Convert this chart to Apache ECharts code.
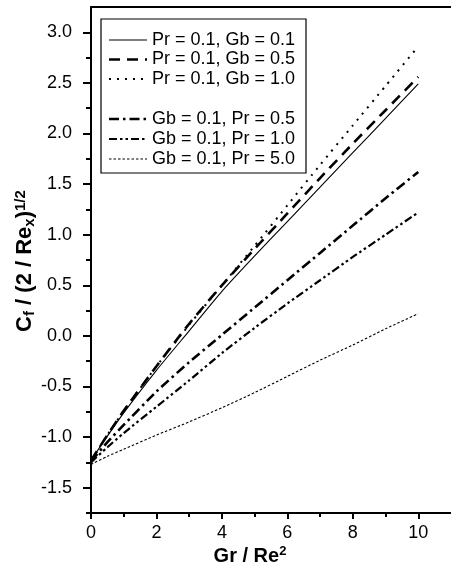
<!DOCTYPE html>
<html>
<head>
<meta charset="utf-8">
<script src="https://cdn.jsdelivr.net/npm/echarts@6/dist/echarts.min.js"></script>
<style>
  html, body { margin: 0; padding: 0; background: #fff; }
  #chart { width: 451px; height: 569px; }
</style>
</head>
<body>
<div id="chart"></div>
<script>
// Abscissa: Gr / Re^2
const grRe2 = [0, 0.5, 1, 2, 3, 4, 5, 6, 7, 8, 9, 10];

// Skin friction C_f / (2/Re_x)^(1/2) for each parameter set
const pr01gb01 = [-1.23, -0.99, -0.76, -0.34, 0.05, 0.44, 0.79, 1.13, 1.47, 1.81, 2.15, 2.49];
const pr01gb05 = [-1.23, -0.98, -0.74, -0.30, 0.12, 0.50, 0.86, 1.21, 1.56, 1.90, 2.23, 2.56];
const pr01gb10 = [-1.23, -0.98, -0.74, -0.30, 0.11, 0.50, 0.89, 1.29, 1.69, 2.08, 2.47, 2.86];
const gb01pr05 = [-1.24, -1.05, -0.88, -0.55, -0.26, 0.01, 0.28, 0.55, 0.82, 1.09, 1.36, 1.62];
const gb01pr10 = [-1.25, -1.10, -0.96, -0.70, -0.44, -0.17, 0.08, 0.32, 0.55, 0.78, 1.00, 1.22];
const gb01pr50 = [-1.27, -1.19, -1.12, -0.98, -0.85, -0.71, -0.56, -0.40, -0.24, -0.09, 0.07, 0.22];

const seriesNames = [
  'Pr = 0.1, Gb = 0.1',
  'Pr = 0.1, Gb = 0.5',
  'Pr = 0.1, Gb = 1.0',
  'Gb = 0.1, Pr = 0.5',
  'Gb = 0.1, Pr = 1.0',
  'Gb = 0.1, Pr = 5.0'
];

// Axis tick positions
const xMajorTicks = [0, 2, 4, 6, 8, 10];
const xMinorTicks = [1, 3, 5, 7, 9];
const yMajorTicks = [-1.5, -1.0, -0.5, 0.0, 0.5, 1.0, 1.5, 2.0, 2.5, 3.0];
const yMinorTicks = [-1.75, -1.25, -0.75, -0.25, 0.25, 0.75, 1.25, 1.75, 2.25, 2.75];

const FONT = '"Liberation Sans", Arial, Helvetica, sans-serif';

// Line appearance for each curve
const styles = [
  { width: 1.1, type: 'solid' },
  { width: 2.6, type: [11, 7] },
  { width: 2.0, type: [2, 6] },
  { width: 2.6, type: [10, 4, 2.5, 4] },
  { width: 2.2, type: [8, 3, 2.5, 3, 2.5, 3] },
  { width: 1.1, type: [2.5, 2] }
];

const allValues = [pr01gb01, pr01gb05, pr01gb10, gb01pr05, gb01pr10, gb01pr50];

const series = allValues.map((vals, k) => ({
  name: seriesNames[k],
  type: 'line',
  data: grRe2.map((x, i) => [x, vals[i]]),
  smooth: 0.2,
  showSymbol: false,
  symbol: 'none',
  silent: true,
  lineStyle: { color: '#000', width: styles[k].width, type: styles[k].type, cap: 'butt' }
}));

// Legend drawn as a boxed list with line samples
const legendRowsY = [40, 59.5, 79, 119, 139, 159];
const legendGraphics = [{
  type: 'rect',
  shape: { x: 101, y: 19, width: 205, height: 154 },
  style: { fill: '#fff', stroke: '#000', lineWidth: 1.2 },
  z: 10
}];
seriesNames.forEach((name, k) => {
  const y = legendRowsY[k];
  legendGraphics.push({
    type: 'line',
    shape: { x1: 109, y1: y, x2: 147, y2: y },
    style: {
      stroke: '#000',
      lineWidth: styles[k].width,
      lineDash: styles[k].type === 'solid' ? null : styles[k].type
    },
    z: 11
  });
  legendGraphics.push({
    type: 'text',
    x: 152, y: y,
    style: {
      text: name, fill: '#000',
      font: '18px ' + FONT,
      align: 'left', verticalAlign: 'middle'
    },
    z: 11
  });
});

const titleGraphics = [
  {
    type: 'text',
    x: 250, y: 556,
    style: {
      text: '{m|Gr / Re}{p|2}',
      align: 'center', verticalAlign: 'middle',
      rich: {
        m: { fontSize: 20, fontWeight: 'bold', fontFamily: FONT, fill: '#000', lineHeight: 22 },
        p: { fontSize: 13, fontWeight: 'bold', fontFamily: FONT, fill: '#000', verticalAlign: 'top', lineHeight: 22, padding: [0, 0, 8, 0] }
      }
    }
  },
  {
    type: 'text',
    x: 25, y: 261,
    rotation: Math.PI / 2,
    style: {
      text: '{m|C}{b|f}{m| / (2 / Re}{b|x}{m|)}{p|1/2}',
      align: 'center', verticalAlign: 'middle',
      rich: {
        m: { fontSize: 22, fontWeight: 'bold', fontFamily: FONT, fill: '#000', lineHeight: 24 },
        b: { fontSize: 15, fontWeight: 'bold', fontFamily: FONT, fill: '#000', verticalAlign: 'bottom', lineHeight: 24, padding: [8, 0, 0, 0] },
        p: { fontSize: 15, fontWeight: 'bold', fontFamily: FONT, fill: '#000', verticalAlign: 'top', lineHeight: 24, padding: [0, 0, 8, 0] }
      }
    }
  }
];

const chart = echarts.init(document.getElementById('chart'), null, { renderer: 'canvas' });
chart.setOption({
  animation: false,
  backgroundColor: '#fff',
  grid: { left: 91, top: 7, width: 364, height: 506, containLabel: false, show: false },
  xAxis: [
    {
      type: 'value', min: 0, max: 11, position: 'bottom',
      axisLine: { show: true, onZero: false, lineStyle: { color: '#000', width: 2 } },
      axisTick: { show: true, inside: false, length: 6, lineStyle: { color: '#000', width: 2 }, customValues: xMajorTicks },
      axisLabel: { show: true, customValues: xMajorTicks, formatter: v => String(v), color: '#000', fontSize: 18, fontFamily: FONT, margin: 11 },
      splitLine: { show: false }
    },
    {
      type: 'value', min: 0, max: 11, position: 'bottom',
      axisLine: { show: false, onZero: false },
      axisTick: { show: true, inside: false, length: 4, lineStyle: { color: '#000', width: 2 }, customValues: xMinorTicks },
      axisLabel: { show: false },
      splitLine: { show: false }
    },
    {
      type: 'value', min: 0, max: 11, position: 'top',
      axisLine: { show: true, onZero: false, lineStyle: { color: '#000', width: 2 } },
      axisTick: { show: false },
      axisLabel: { show: false },
      splitLine: { show: false }
    }
  ],
  yAxis: [
    {
      type: 'value', min: -1.75, max: 3.25, position: 'left',
      axisLine: { show: true, onZero: false, lineStyle: { color: '#000', width: 2 } },
      axisTick: { show: true, inside: false, length: 8, lineStyle: { color: '#000', width: 2 }, customValues: yMajorTicks },
      axisLabel: { show: true, customValues: yMajorTicks, formatter: v => v.toFixed(1), color: '#000', fontSize: 18, fontFamily: FONT, margin: 19 },
      splitLine: { show: false }
    },
    {
      type: 'value', min: -1.75, max: 3.25, position: 'left',
      axisLine: { show: false, onZero: false },
      axisTick: { show: true, inside: false, length: 5, lineStyle: { color: '#000', width: 2 }, customValues: yMinorTicks },
      axisLabel: { show: false },
      splitLine: { show: false }
    }
  ],
  series: series,
  graphic: legendGraphics.concat(titleGraphics)
});
</script>
</body>
</html>
